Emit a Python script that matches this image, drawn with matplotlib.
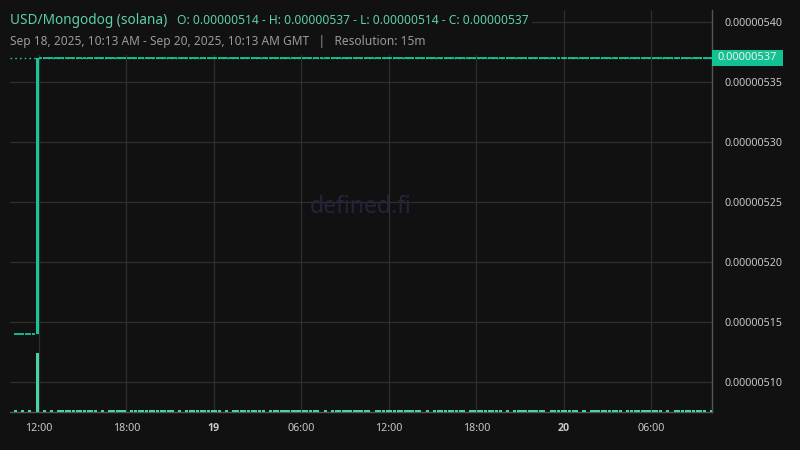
import matplotlib
matplotlib.use('Agg')
import matplotlib.pyplot as plt
import matplotlib.dates as mdates
from matplotlib.patches import Rectangle
from datetime import datetime, timedelta

# ---- data (15m candles, Sep 18 10:15 -> Sep 20 10:00 GMT) ----
first_candle = datetime(2025, 9, 18, 10, 15)
n_candles = 192
opens = [5.14e-6] * 6 + [5.14e-6] + [5.37e-6] * 185
highs = [5.14e-6] * 6 + [5.37e-6] + [5.37e-6] * 185
lows = [5.14e-6] * 6 + [5.14e-6] + [5.37e-6] * 185
closes = [5.14e-6] * 6 + [5.37e-6] + [5.37e-6] * 185
volumes = [
    3, 0, 3, 0, 3, 0, 100, 0, 3, 0, 3, 0, 3, 3, 3, 3,
    3, 3, 3, 3, 3, 3, 3, 0, 3, 0, 3, 3, 3, 3, 3, 0,
    3, 3, 3, 3, 3, 3, 3, 3, 3, 3, 3, 3, 0, 3, 0, 3,
    3, 3, 3, 3, 3, 3, 3, 3, 3, 0, 3, 0, 3, 3, 3, 3,
    3, 3, 3, 3, 3, 0, 3, 3, 3, 3, 3, 3, 3, 3, 3, 3,
    3, 3, 3, 3, 0, 3, 0, 3, 3, 3, 3, 3, 3, 3, 3, 3,
    3, 3, 0, 3, 3, 3, 3, 3, 3, 3, 3, 3, 3, 3, 3, 3,
    0, 3, 0, 3, 3, 3, 3, 3, 3, 3, 3, 3, 0, 3, 3, 3,
    3, 3, 3, 3, 3, 3, 0, 3, 0, 3, 3, 3, 3, 3, 3, 3,
    3, 3, 0, 3, 3, 3, 3, 3, 3, 3, 3, 0, 3, 0, 3, 3,
    3, 3, 3, 3, 3, 3, 3, 0, 3, 3, 3, 3, 3, 3, 3, 3,
    3, 3, 0, 3, 0, 3, 3, 3, 3, 3, 3, 3, 3, 3, 0, 3,
]
last_price = 5.37e-6
y_ticks = [5.10e-6, 5.15e-6, 5.20e-6, 5.25e-6, 5.30e-6, 5.35e-6, 5.40e-6]
x_tick_times = [datetime(2025, 9, 18, 12), datetime(2025, 9, 18, 18),
                datetime(2025, 9, 19, 0), datetime(2025, 9, 19, 6),
                datetime(2025, 9, 19, 12), datetime(2025, 9, 19, 18),
                datetime(2025, 9, 20, 0), datetime(2025, 9, 20, 6)]
x_tick_labels = ['12:00', '18:00', '19', '06:00', '12:00', '18:00', '20', '06:00']

BG = '#111111'
GRID = '#2e2e2e'
GREEN = '#17c597'
VOLC = '#47d3a6'
TXT = '#c8c8c8'
FONT = ['Noto Sans', 'DejaVu Sans']
plt.rcParams['font.family'] = FONT

W, H = 800, 450
fig = plt.figure(figsize=(8, 4.5), dpi=100, facecolor=BG)
L, R, T, B = 10, 712, 10, 412
ax = fig.add_axes([L / W, 1 - B / H, (R - L) / W, (B - T) / H])
ax.set_facecolor(BG)

times = [first_candle + timedelta(minutes=15 * i) for i in range(n_candles)]
centers = [mdates.date2num(t + timedelta(minutes=7.5)) for t in times]
step = 15 / (24 * 60)
bw = step * 0.78

for x, o, h, l, c in zip(centers, opens, highs, lows, closes):
    if h > max(o, c) or l < min(o, c):
        ax.vlines(x, l, h, color=GREEN, lw=1, zorder=3)
    if abs(c - o) > 1e-12:
        ax.bar(x, abs(c - o), bottom=min(o, c), width=bw, color=GREEN,
               linewidth=0, zorder=3)
    else:
        ax.hlines(o, x - step * 0.45, x + step * 0.45, color=GREEN, lw=1.3, zorder=3)

ax.axhline(last_price, color=GREEN, lw=1, ls=(0, (1.2, 2.2)), zorder=2.8)

# volume
ax2 = ax.twinx()
ax2.patch.set_visible(False)
ax2.bar(centers, volumes, width=step * 0.85, color=VOLC, linewidth=0, zorder=2)
ax2.set_ylim(0, max(volumes) * (B - T) / 59.0)
ax2.axis('off')

x0 = mdates.date2num(datetime(2025, 9, 18, 10, 1))
x1 = mdates.date2num(datetime(2025, 9, 20, 10, 9))
ax.set_xlim(x0, x1)
ax2.set_xlim(x0, x1)
ax.set_ylim(5.075e-6, 5.41e-6)

ax.set_axisbelow(True)
ax.yaxis.tick_right()
ax.set_yticks(y_ticks)
ax.set_yticklabels(['%.8f' % v for v in y_ticks])
ax.set_xticks([mdates.date2num(t) for t in x_tick_times])
ax.set_xticklabels(x_tick_labels)
ax.tick_params(axis='both', length=0, colors=TXT, labelsize=7.7)
for lbl in ax.get_xticklabels():
    if lbl.get_text() in ('19', '20'):
        lbl.set_fontfamily(['Open Sans', 'DejaVu Sans'])
        lbl.set_fontweight('bold')
ax.tick_params(axis='y', pad=9)
ax.tick_params(axis='x', pad=8)
ax.grid(True, color=GRID, lw=0.9)
for s in ['top', 'left']:
    ax.spines[s].set_visible(False)
for s in ['right', 'bottom']:
    ax.spines[s].set_color('#555555')
    ax.spines[s].set_linewidth(1)

# legend backdrop covering gridlines
fig.patches.append(Rectangle((L / W, 1 - 55 / H), 522 / W, 45 / H,
                             transform=fig.transFigure, facecolor=BG,
                             edgecolor='none', zorder=5))

fig.text(10 / W, 1 - 20 / H, 'USD/Mongodog (solana)', color='#5dcfaa',
         fontsize=9.8, va='center', ha='left', zorder=6)
fig.text(177 / W, 1 - 20 / H,
         'O: 0.00000514 - H: 0.00000537 - L: 0.00000514 - C: 0.00000537',
         color='#5dcfaa', fontsize=8.7, va='center', ha='left', zorder=6)
fig.text(10 / W, 1 - 41 / H,
         'Sep 18, 2025, 10:13 AM - Sep 20, 2025, 10:13 AM GMT   |   Resolution: 15m',
         color='#9a9a9a', fontsize=8.6, va='center', ha='left', zorder=6)

# watermark
fig.text(361 / W, 1 - 207 / H, 'defined.fi', color='#23243c', fontsize=16.5,
         ha='center', va='center', zorder=1)

# last price tag
fig.patches.append(Rectangle((712 / W, 1 - 66 / H), 71 / W, 16 / H,
                             transform=fig.transFigure, facecolor='#12c293',
                             edgecolor='none', zorder=5))
fig.text(747.5 / W, 1 - 58 / H, '%.8f' % last_price, color='#f0f0f0',
         fontsize=8, ha='center', va='center', zorder=6)

fig.savefig('out.png', dpi=100, facecolor=BG)
